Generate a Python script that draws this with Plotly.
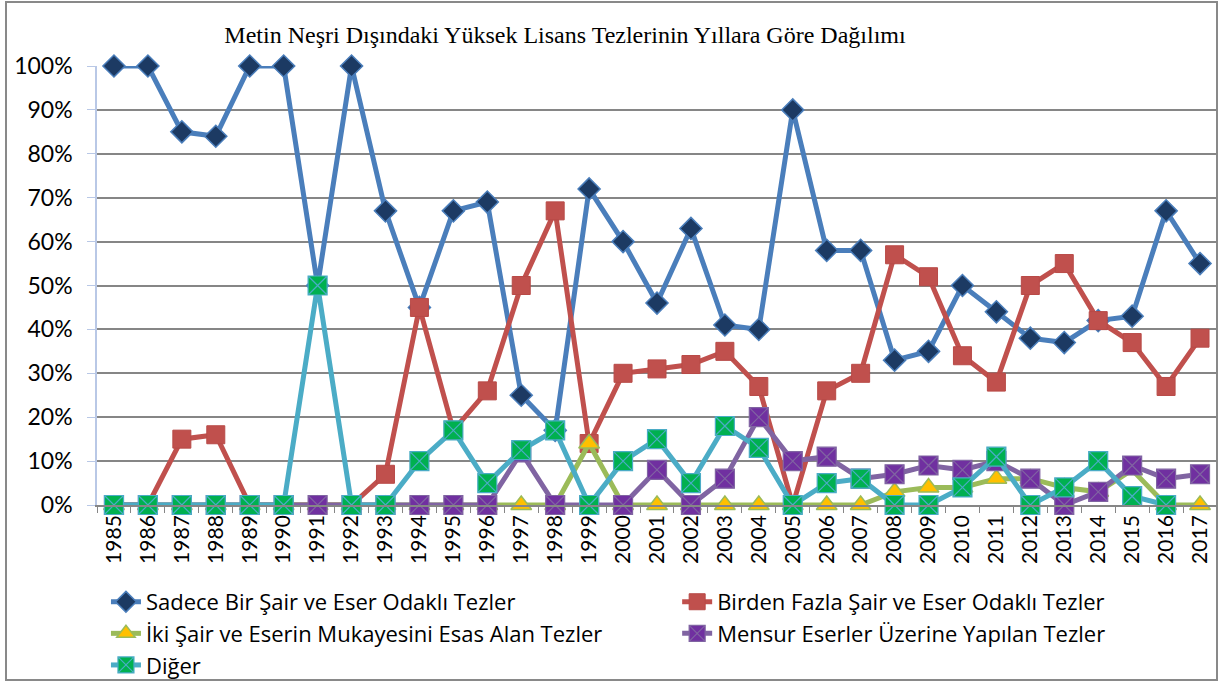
import plotly.graph_objects as go

years = [str(y) for y in range(1985, 2018)]

sadece = [100, 100, 85, 84, 100, 100, 50, 100, 67, 45, 67, 69, 25, 17, 72, 60, 46, 63, 41, 40,
          90, 58, 58, 33, 35, 50, 44, 38, 37, 42, 43, 67, 55]
birden = [0, 0, 15, 16, 0, 0, 0, 0, 7, 45, 17, 26, 50, 67, 14, 30, 31, 32, 35, 27,
          0, 26, 30, 57, 52, 34, 28, 50, 55, 42, 37, 27, 38]
iki = [0, 0, 0, 0, 0, 0, 0, 0, 0, 0, 0, 0, 0, 0, 14, 0, 0, 0, 0, 0,
       0, 0, 0, 3, 4, 4, 6, 6, 4, 3, 8, 0, 0]
mensur = [0, 0, 0, 0, 0, 0, 0, 0, 0, 0, 0, 0, 12, 0, 0, 0, 8, 0, 6, 20,
          10, 11, 6, 7, 9, 8, 10, 6, 0, 3, 9, 6, 7]
diger = [0, 0, 0, 0, 0, 0, 50, 0, 0, 10, 17, 5, 12.5, 17, 0, 10, 15, 5, 18, 13,
         0, 5, 6, 0, 0, 4, 11, 0, 4, 10, 2, 0, None]

names = ["Sadece Bir Şair ve Eser Odaklı Tezler",
         "Birden Fazla Şair ve Eser Odaklı Tezler",
         "İki Şair ve Eserin Mukayesini Esas Alan Tezler",
         "Mensur Eserler Üzerine Yapılan Tezler",
         "Diğer"]

def pct(v):
    return [None if x is None else x / 100 for x in v]

series = [
    (names[0], sadece, "#4A7EBB", "legend", dict(symbol="diamond", size=17, color="#1C3A63",
                                        line=dict(color="#4A7EBB", width=1.5))),
    (names[1], birden, "#C0504D", "legend2", dict(symbol="square", size=18, color="#C0504D",
                                        line=dict(color="#B84A47", width=1))),
    (names[2], iki, "#9BBB59", "legend", dict(symbol="triangle-up", size=18, color="#FFC000",
                                     line=dict(color="#9BBB59", width=1.5))),
    (names[3], mensur, "#8064A2", "legend2", dict(symbol="square-x", size=19, color="#7030A0",
                                        line=dict(color="#8064A2", width=1.2))),
    (names[4], diger, "#4BACC6", "legend", dict(symbol="square-x", size=19, color="#00B050",
                                       line=dict(color="#4BACC6", width=1.2))),
]

fig = go.Figure()
for name, vals, lc, lg, mk in series:
    fig.add_trace(go.Scatter(
        x=years, y=pct(vals), name=name, mode="lines+markers",
        line=dict(color=lc, width=5), marker=mk, cliponaxis=False,
        connectgaps=False, legend=lg,
    ))

legend_common = dict(orientation="v", xanchor="left", y=-0.173, yanchor="top",
                     font=dict(family="Open Sans", size=22, color="black"),
                     bgcolor="rgba(0,0,0,0)", traceorder="normal", tracegroupgap=0)

fig.update_layout(
    width=1219, height=683,
    paper_bgcolor="white", plot_bgcolor="white",
    margin=dict(l=97, r=2, t=66, b=178, autoexpand=False),
    title=dict(text="Metin Neşri Dışındaki Yüksek Lisans Tezlerinin Yıllara Göre Dağılımı",
               font=dict(family="Liberation Serif", size=24, color="black"),
               x=565 / 1219, xanchor="center", y=1 - 35 / 683, yanchor="middle"),
    font=dict(family="Lato", color="black"),
    showlegend=True,
    legend=dict(x=0.008, **legend_common),
    legend2=dict(x=0.518, **legend_common),
    xaxis=dict(type="category", range=[-0.5, 32.5], tickangle=-90,
               tickfont=dict(family="Lato", size=21, color="black"),
               showgrid=False, showline=True, linecolor="#868686", linewidth=1.5,
               ticks="outside", ticklen=6, tickcolor="#868686", tickson="boundaries",
               zeroline=False),
    yaxis=dict(range=[0, 1], tickformat=".0%", dtick=0.1,
               tickfont=dict(family="Lato", size=23, color="black"),
               showgrid=True, gridcolor="#868686", gridwidth=1.5,
               showline=True, linecolor="#B9C8E6", linewidth=1.5,
               ticks="outside", ticklen=8, tickcolor="#B9C8E6", ticklabelstandoff=10,
               zeroline=False),
    shapes=[dict(type="rect", xref="paper", yref="paper",
                 x0=(6 - 97) / 1120, x1=(1217 - 97) / 1120,
                 y0=(505 - 680) / 439, y1=(505 - 2) / 439,
                 line=dict(color="#898989", width=2), layer="below")],
)

fig.write_html("out.html", config={"displayModeBar": False},
               post_script="document.body.style.margin='0';")
